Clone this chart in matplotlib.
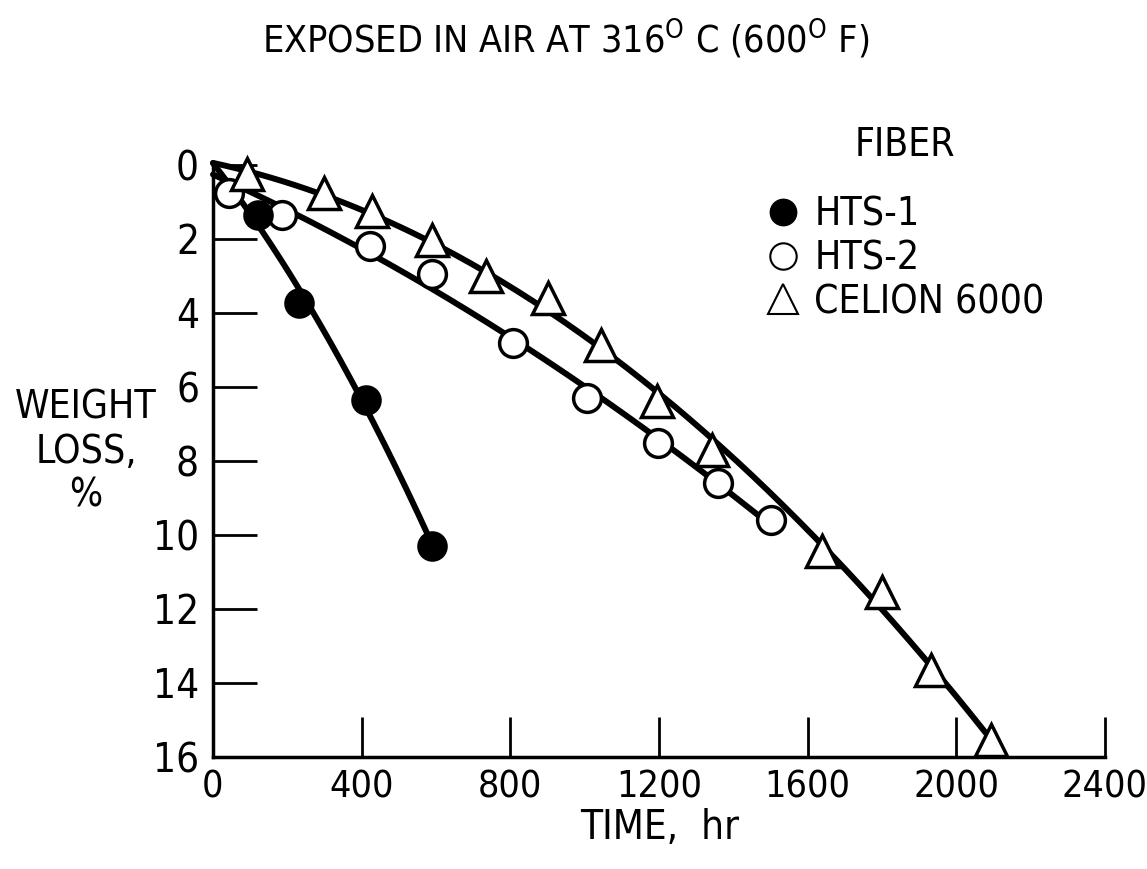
import numpy as np
import matplotlib
matplotlib.use('Agg')
import matplotlib.pyplot as plt
from matplotlib.lines import Line2D

plt.rcParams['font.family'] = ['DejaVu Sans']
plt.rcParams['font.stretch'] = 'condensed'

# data (time in hr, weight loss in %)
hts1_t = [0, 121, 231, 412, 589]
hts1_w = [0, 1.35, 3.73, 6.35, 10.3]

hts2_t = [0, 43, 186, 422, 589, 807, 1006, 1197, 1358, 1501]
hts2_w = [0, 0.76, 1.35, 2.2, 2.95, 4.8, 6.3, 7.5, 8.6, 9.6]

celion_t = [0, 91, 299, 428, 589, 734, 901, 1044, 1194, 1342, 1638, 1800, 1931, 2093]
celion_w = [0, 0.25, 0.76, 1.24, 2.03, 3.0, 3.6, 4.86, 6.38, 7.7, 10.43, 11.54, 13.65, 15.54]

x_ticks = [0, 400, 800, 1200, 1600, 2000, 2400]
y_ticks = [0, 2, 4, 6, 8, 10, 12, 14, 16]


def fit_curve(ax, t, w):
    # smooth faired curve through the test points
    c = np.polyfit(t, w, 2)
    tt = np.linspace(0, max(t), 200)
    ax.plot(tt, np.polyval(c, tt), color='black', lw=4.3, zorder=2,
            solid_capstyle='round', clip_on=False)


fig = plt.figure(figsize=(11.47, 8.69), dpi=100)
ax = fig.add_axes([213 / 1147, 1 - 757 / 869, 892 / 1147, 592 / 869])

fit_curve(ax, hts1_t, hts1_w)
fit_curve(ax, hts2_t, hts2_w)
fit_curve(ax, celion_t, celion_w)

ax.plot(hts1_t[1:], hts1_w[1:], 'o', ms=20, mfc='black', mec='black', mew=2,
        zorder=4, clip_on=False)
ax.plot(hts2_t[1:], hts2_w[1:], 'o', ms=20, mfc='white', mec='black', mew=2.5,
        zorder=3, clip_on=False)
ax.plot(celion_t[1:], celion_w[1:], '^', ms=23, mfc='white', mec='black', mew=2.5,
        zorder=5, clip_on=False)

ax.set_xlim(0, 2400)
ax.set_ylim(16, 0)
ax.set_xticks(x_ticks)
ax.set_yticks(y_ticks)
ax.spines['top'].set_visible(False)
ax.spines['right'].set_visible(False)
ax.spines['left'].set_linewidth(2.5)
ax.spines['bottom'].set_linewidth(2.5)
ax.tick_params(axis='x', direction='in', length=29, width=2, pad=9, labelsize=27)
ax.tick_params(axis='y', direction='in', length=32, width=2, pad=10, labelsize=29)

handles = [
    Line2D([], [], ls='none', marker='o', ms=19, mfc='black', mec='black'),
    Line2D([], [], ls='none', marker='o', ms=19, mfc='white', mec='black', mew=1.5),
    Line2D([], [], ls='none', marker='^', ms=22, mfc='white', mec='black', mew=1.5),
]
ax.legend(handles, ['HTS-1', 'HTS-2', 'CELION 6000'],
          loc='upper left', bbox_to_anchor=(0.6, 0.975), frameon=False,
          fontsize=28, handlelength=1.0,
          handletextpad=0.3, labelspacing=0.15, borderaxespad=0)
ax.text(0.776, 1.034, 'FIBER', transform=ax.transAxes, ha='center',
        va='center', fontsize=28)

fig.text(0.493, 0.955, 'EXPOSED IN AIR AT 316$^{\\rm O}$ C (600$^{\\rm O}$ F)',
         ha='center', va='center', fontsize=27)
fig.text(0.075, 0.48, 'WEIGHT\nLOSS,\n%', ha='center', va='center',
         fontsize=28, linespacing=1.2)
fig.text(0.575, 0.047, 'TIME,  hr', ha='center', va='center', fontsize=29)

fig.savefig('out.png', dpi=100)
